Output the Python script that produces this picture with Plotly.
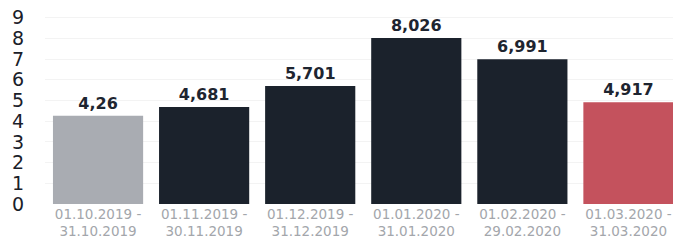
import plotly.graph_objects as go

categories = ["01.10.2019 -<br>31.10.2019", "01.11.2019 -<br>30.11.2019",
              "01.12.2019 -<br>31.12.2019", "01.01.2020 -<br>31.01.2020",
              "01.02.2020 -<br>29.02.2020", "01.03.2020 -<br>31.03.2020"]
values = [4.26, 4.681, 5.701, 8.026, 6.991, 4.917]
value_labels = ["4,26", "4,681", "5,701", "8,026", "6,991", "4,917"]
bar_colors = ["#a9acb2", "#1b222c", "#1b222c", "#1b222c", "#1b222c", "#c4525d"]
y_ticks = list(range(0, 10))

fig = go.Figure(go.Bar(
    x=categories, y=values, text=value_labels, textposition="outside",
    marker=dict(color=bar_colors, line=dict(width=0)), width=0.85,
    textfont=dict(family="DejaVu Sans", size=16, color="#1e2530", weight="bold"),
    cliponaxis=False, hoverinfo="skip",
))

fig.update_layout(
    width=673, height=241, margin=dict(l=45, r=0, t=14, b=37),
    paper_bgcolor="white", plot_bgcolor="white", showlegend=False,
    xaxis=dict(range=[-0.5, 5.42], showgrid=False, zeroline=False, showline=False,
               tickfont=dict(family="DejaVu Sans", size=13.5, color="#a3a6ab"),
               ticks="", fixedrange=True),
    yaxis=dict(range=[0, 9.18], tickvals=y_ticks, showgrid=True, gridcolor="#f3f3f3",
               zeroline=False, showline=False, ticks="outside", ticklen=16,
               tickcolor="rgba(0,0,0,0)", fixedrange=True,
               tickfont=dict(family="DejaVu Sans", size=19, color="#1a2029")),
    bargap=0.15,
)

fig.write_html("out.html", config={"displayModeBar": False},
               post_script="document.body.style.margin='0';document.body.style.overflow='hidden';")
